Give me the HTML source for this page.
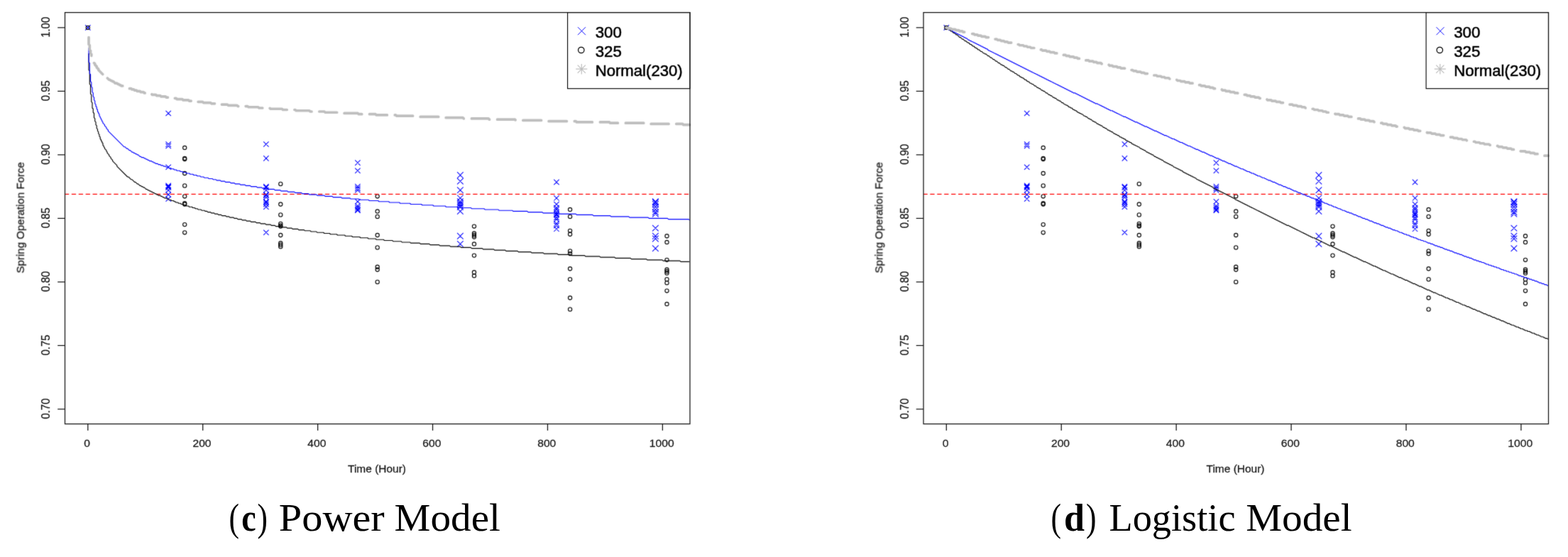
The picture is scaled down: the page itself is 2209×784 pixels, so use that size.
<!DOCTYPE html>
<html lang="en"><head><meta charset="utf-8"><title>Power Model and Logistic Model</title>
<style>
html,body{margin:0;padding:0;background:#fff}
body{width:2209px;height:784px;overflow:hidden}
svg{display:block;font-family:"Liberation Sans","DejaVu Sans",sans-serif}
</style></head><body>
<svg width="2209" height="784" viewBox="0 0 2209 784">
<defs><filter id="soft" filterUnits="userSpaceOnUse" x="0" y="0" width="2209" height="690" color-interpolation-filters="sRGB"><feConvolveMatrix order="3" kernelMatrix="0.0169 0.0962 0.0169 0.0962 0.5476 0.0962 0.0169 0.0962 0.0169" edgeMode="duplicate" preserveAlpha="false"/></filter><filter id="soft2" filterUnits="userSpaceOnUse" x="0" y="0" width="2209" height="690" color-interpolation-filters="sRGB"><feConvolveMatrix order="3" kernelMatrix="0.0081 0.0738 0.0081 0.0738 0.6724 0.0738 0.0081 0.0738 0.0081" edgeMode="duplicate" preserveAlpha="false"/></filter></defs>
<rect width="2209" height="784" fill="#fff"/>
<g filter="url(#soft)">
<g transform="translate(0 0)">
<g stroke="#0000ff" stroke-width="1.05" fill="none" stroke-linecap="butt">
<path d="M120.1 35.2L127.5 42.6M120.1 42.6L127.5 35.2M233.5 155.77L240.9 163.17M233.5 163.17L240.9 155.77M233.5 199.28L240.9 206.68M233.5 206.68L240.9 199.28M233.5 201.76L240.9 209.16M233.5 209.16L240.9 201.76M233.5 231.59L240.9 238.99M233.5 238.99L240.9 231.59M233.5 257.7L240.9 265.1M233.5 265.1L240.9 257.7M233.5 258.94L240.9 266.34M233.5 266.34L240.9 258.94M233.5 260.18L240.9 267.58M233.5 267.58L240.9 260.18M233.5 263.91L240.9 271.31M233.5 271.31L240.9 263.91M233.5 270.13L240.9 277.53M233.5 277.53L240.9 270.13M233.5 276.34L240.9 283.74M233.5 283.74L240.9 276.34M371.2 199.28L378.6 206.68M371.2 206.68L378.6 199.28M371.2 219.16L378.6 226.56M371.2 226.56L378.6 219.16M371.2 258.94L378.6 266.34M371.2 266.34L378.6 258.94M371.2 260.18L378.6 267.58M371.2 267.58L378.6 260.18M371.2 263.91L378.6 271.31M371.2 271.31L378.6 263.91M371.2 270.13L378.6 277.53M371.2 277.53L378.6 270.13M371.2 271.37L378.6 278.77M371.2 278.77L378.6 271.37M371.2 273.86L378.6 281.26M371.2 281.26L378.6 273.86M371.2 280.07L378.6 287.47M371.2 287.47L378.6 280.07M371.2 281.31L378.6 288.71M371.2 288.71L378.6 281.31M371.2 283.8L378.6 291.2M371.2 291.2L378.6 283.8M371.2 287.53L378.6 294.93M371.2 294.93L378.6 287.53M371.2 323.58L378.6 330.98M371.2 330.98L378.6 323.58M500.2 225.38L507.6 232.78M500.2 232.78L507.6 225.38M500.2 236.57L507.6 243.97M500.2 243.97L507.6 236.57M500.2 258.94L507.6 266.34M500.2 266.34L507.6 258.94M500.2 261.43L507.6 268.83M500.2 268.83L507.6 261.43M500.2 263.91L507.6 271.31M500.2 271.31L507.6 263.91M500.2 280.07L507.6 287.47M500.2 287.47L507.6 280.07M500.2 286.29L507.6 293.69M500.2 293.69L507.6 286.29M500.2 288.77L507.6 296.17M500.2 296.17L507.6 288.77M500.2 291.26L507.6 298.66M500.2 298.66L507.6 291.26M500.2 292.5L507.6 299.9M500.2 299.9L507.6 292.5M644.1 242.18L652.7 250.78M644.1 250.78L652.7 242.18M644.1 250.88L652.7 259.48M644.1 259.48L652.7 250.88M644.1 263.31L652.7 271.91M644.1 271.91L652.7 263.31M644.1 274.5L652.7 283.1M644.1 283.1L652.7 274.5M644.1 279.47L652.7 288.07M644.1 288.07L652.7 279.47M644.1 281.96L652.7 290.56M644.1 290.56L652.7 281.96M644.1 284.44L652.7 293.04M644.1 293.04L652.7 284.44M644.1 286.93L652.7 295.53M644.1 295.53L652.7 286.93M644.1 293.14L652.7 301.74M644.1 301.74L652.7 293.14M644.1 327.95L652.7 336.55M644.1 336.55L652.7 327.95M644.1 339.14L652.7 347.74M644.1 347.74L652.7 339.14M780.3 252.73L787.7 260.13M780.3 260.13L787.7 252.73M780.3 275.1L787.7 282.5M780.3 282.5L787.7 275.1M780.3 283.8L787.7 291.2M780.3 291.2L787.7 283.8M780.3 288.77L787.7 296.17M780.3 296.17L787.7 288.77M780.3 291.26L787.7 298.66M780.3 298.66L787.7 291.26M780.3 294.99L787.7 302.39M780.3 302.39L787.7 294.99M780.3 297.47L787.7 304.87M780.3 304.87L787.7 297.47M780.3 298.72L787.7 306.12M780.3 306.12L787.7 298.72M780.3 302.44L787.7 309.84M780.3 309.84L787.7 302.44M780.3 304.93L787.7 312.33M780.3 312.33L787.7 304.93M780.3 311.15L787.7 318.55M780.3 318.55L787.7 311.15M780.3 313.63L787.7 321.03M780.3 321.03L787.7 313.63M780.3 318.6L787.7 326M780.3 326L787.7 318.6M919.1 279.47L927.7 288.07M919.1 288.07L927.7 279.47M919.1 280.71L927.7 289.31M919.1 289.31L927.7 280.71M919.1 283.2L927.7 291.8M919.1 291.8L927.7 283.2M919.1 286.93L927.7 295.53M919.1 295.53L927.7 286.93M919.1 290.66L927.7 299.26M919.1 299.26L927.7 290.66M919.1 294.39L927.7 302.99M919.1 302.99L927.7 294.39M919.1 296.87L927.7 305.47M919.1 305.47L927.7 296.87M919.1 316.76L927.7 325.36M919.1 325.36L927.7 316.76M919.1 327.95L927.7 336.55M919.1 336.55L927.7 327.95M919.1 331.68L927.7 340.28M919.1 340.28L927.7 331.68M919.1 345.35L927.7 353.95M919.1 353.95L927.7 345.35"/></g>
<g stroke="#000" stroke-width="1.1" fill="none">
<circle cx="123.8" cy="38.9" r="2.6"/>
<circle cx="260.2" cy="207.95" r="2.6"/>
<circle cx="260.2" cy="222.86" r="2.6"/>
<circle cx="260.2" cy="224.11" r="2.6"/>
<circle cx="260.2" cy="244" r="2.6"/>
<circle cx="260.2" cy="261.4" r="2.6"/>
<circle cx="260.2" cy="276.31" r="2.6"/>
<circle cx="260.2" cy="286.26" r="2.6"/>
<circle cx="260.2" cy="287.5" r="2.6"/>
<circle cx="260.2" cy="316.09" r="2.6"/>
<circle cx="260.2" cy="327.28" r="2.6"/>
<circle cx="395.3" cy="258.91" r="2.6"/>
<circle cx="395.3" cy="287.5" r="2.6"/>
<circle cx="395.3" cy="302.42" r="2.6"/>
<circle cx="395.3" cy="314.85" r="2.6"/>
<circle cx="395.3" cy="317.33" r="2.6"/>
<circle cx="395.3" cy="318.57" r="2.6"/>
<circle cx="395.3" cy="331" r="2.6"/>
<circle cx="395.3" cy="342.19" r="2.6"/>
<circle cx="395.3" cy="344.68" r="2.6"/>
<circle cx="395.3" cy="347.16" r="2.6"/>
<circle cx="531.7" cy="276.31" r="2.6"/>
<circle cx="531.7" cy="297.44" r="2.6"/>
<circle cx="531.7" cy="304.9" r="2.6"/>
<circle cx="531.7" cy="331" r="2.6"/>
<circle cx="531.7" cy="348.41" r="2.6"/>
<circle cx="531.7" cy="375.75" r="2.6"/>
<circle cx="531.7" cy="379.48" r="2.6"/>
<circle cx="531.7" cy="396.88" r="2.6"/>
<circle cx="668" cy="318.57" r="2.6"/>
<circle cx="668" cy="328.52" r="2.6"/>
<circle cx="668" cy="331" r="2.6"/>
<circle cx="668" cy="333.49" r="2.6"/>
<circle cx="668" cy="343.44" r="2.6"/>
<circle cx="668" cy="359.59" r="2.6"/>
<circle cx="668" cy="383.21" r="2.6"/>
<circle cx="668" cy="388.18" r="2.6"/>
<circle cx="803.1" cy="294.96" r="2.6"/>
<circle cx="803.1" cy="304.9" r="2.6"/>
<circle cx="803.1" cy="324.79" r="2.6"/>
<circle cx="803.1" cy="329.76" r="2.6"/>
<circle cx="803.1" cy="353.38" r="2.6"/>
<circle cx="803.1" cy="357.11" r="2.6"/>
<circle cx="803.1" cy="378.24" r="2.6"/>
<circle cx="803.1" cy="393.16" r="2.6"/>
<circle cx="803.1" cy="419.26" r="2.6"/>
<circle cx="803.1" cy="435.42" r="2.6"/>
<circle cx="939.5" cy="332.25" r="2.6"/>
<circle cx="939.5" cy="340.95" r="2.6"/>
<circle cx="939.5" cy="365.81" r="2.6"/>
<circle cx="939.5" cy="379.48" r="2.6"/>
<circle cx="939.5" cy="381.97" r="2.6"/>
<circle cx="939.5" cy="384.45" r="2.6"/>
<circle cx="939.5" cy="393.16" r="2.6"/>
<circle cx="939.5" cy="398.13" r="2.6"/>
<circle cx="939.5" cy="409.31" r="2.6"/>
<circle cx="939.5" cy="427.96" r="2.6"/>
</g>
<path d="M91.5 273.4H972.0" stroke="#ff0000" stroke-width="1.3" stroke-dasharray="6.3 3.62" stroke-dashoffset="0.6" fill="none"/>
<path d="M125.04 74.95L125.04 98.56L126.29 99.81L126.29 118.45L127.53 119.69L127.53 132.12L128.77 133.37L128.77 143.31L130.01 144.56L130.01 152.01L131.26 153.26L131.26 158.23L132.5 159.47L132.5 165.69L133.74 166.93L133.74 170.66L134.99 171.9L134.99 175.63L136.23 176.87L136.23 180.6L137.47 181.85L137.47 184.33L138.72 185.57L138.72 188.06L139.96 189.3L139.96 191.79L141.2 193.03L141.2 195.52L142.44 196.76L142.44 198L143.69 199.25L143.69 200.49L144.93 201.73L144.93 204.22L146.17 205.46L146.17 206.71L147.42 207.95L147.42 209.19L149.9 211.68L149.9 212.92L151.15 214.16L151.15 215.41L153.63 217.89L153.63 219.14L156.12 221.62L156.12 222.86L158.6 225.35L158.6 226.59L164.82 232.81L164.82 234.05L179.74 248.97L180.98 248.97L184.71 252.7L185.95 252.7L189.68 256.43L190.92 256.43L193.41 258.91L194.65 258.91L197.14 261.4L198.38 261.4L199.62 262.64L200.87 262.64L202.11 263.88L203.35 263.88L205.84 266.37L207.08 266.37L208.32 267.61L209.57 267.61L210.81 268.86L212.05 268.86L213.3 270.1L214.54 270.1L215.78 271.34L217.03 271.34L218.27 272.58L219.51 272.58L220.75 273.83L222 273.83L223.24 275.07L225.73 275.07L226.97 276.31L228.21 276.31L229.46 277.56L230.7 277.56L231.94 278.8L234.43 278.8L235.67 280.04L236.91 280.04L238.16 281.29L240.64 281.29L241.88 282.53L244.37 282.53L245.61 283.77L246.86 283.77L248.1 285.01L250.59 285.01L251.83 286.26L254.31 286.26L255.56 287.5L258.04 287.5L259.29 288.74L261.77 288.74L263.02 289.99L265.5 289.99L266.75 291.23L270.47 291.23L271.72 292.47L274.2 292.47L275.45 293.72L277.93 293.72L279.18 294.96L282.9 294.96L284.15 296.2L287.88 296.2L289.12 297.44L291.61 297.44L292.85 298.69L296.58 298.69L297.82 299.93L301.55 299.93L302.79 301.17L306.52 301.17L307.76 302.42L311.49 302.42L312.74 303.66L317.71 303.66L318.95 304.9L322.68 304.9L323.92 306.14L328.9 306.14L330.14 307.39L333.87 307.39L335.11 308.63L340.08 308.63L341.32 309.87L346.3 309.87L347.54 311.12L352.51 311.12L353.75 312.36L359.97 312.36L361.21 313.6L366.19 313.6L367.43 314.85L373.64 314.85L374.89 316.09L381.1 316.09L382.34 317.33L387.32 317.33L388.56 318.57L396.02 318.57L397.26 319.82L403.48 319.82L404.72 321.06L410.93 321.06L412.18 322.3L419.63 322.3L420.88 323.55L428.34 323.55L429.58 324.79L437.04 324.79L438.28 326.03L445.74 326.03L446.98 327.28L455.68 327.28L456.92 328.52L464.38 328.52L465.63 329.76L474.33 329.76L475.57 331L485.51 331L486.76 332.25L495.46 332.25L496.7 333.49L506.64 333.49L507.89 334.73L517.83 334.73L519.07 335.98L529.02 335.98L530.26 337.22L540.21 337.22L541.45 338.46L552.63 338.46L553.88 339.71L565.07 339.71L566.31 340.95L577.5 340.95L578.74 342.19L591.17 342.19L592.41 343.44L604.84 343.44L606.08 344.68L618.51 344.68L619.76 345.92L633.43 345.92L634.67 347.16L648.35 347.16L649.59 348.41L663.26 348.41L664.5 349.65L679.42 349.65L680.66 350.89L695.58 350.89L696.82 352.14L711.74 352.14L712.98 353.38L729.14 353.38L730.38 354.62L747.79 354.62L749.03 355.87L765.19 355.87L766.43 357.11L785.08 357.11L786.32 358.35L803.72 358.35L804.96 359.59L823.61 359.59L824.85 360.84L844.74 360.84L845.98 362.08L865.87 362.08L867.11 363.32L888.25 363.32L889.49 364.57L910.62 364.57L911.86 365.81L932.99 365.81L934.24 367.05L957.85 367.05L959.1 368.3L971.53 368.3" stroke="#000" stroke-width="1.15" fill="none" stroke-linejoin="round"/>
<path d="M125.04 67.49L125.04 87.38L126.29 88.62L126.29 103.54L127.53 104.78L127.53 114.72L128.77 115.97L128.77 122.18L130.01 123.42L130.01 129.64L131.26 130.88L131.26 135.85L132.5 137.1L132.5 140.83L133.74 142.07L133.74 145.8L134.99 147.04L134.99 149.53L136.23 150.77L136.23 153.26L137.47 154.5L137.47 156.99L138.72 158.23L138.72 159.47L139.96 160.71L139.96 163.2L141.2 164.44L141.2 165.69L142.44 166.93L142.44 168.17L143.69 169.42L143.69 170.66L144.93 171.9L144.93 173.14L147.42 175.63L147.42 176.87L149.9 179.36L149.9 180.6L152.39 183.09L152.39 184.33L174.76 206.71L176.01 206.71L178.49 209.19L179.74 209.19L182.22 211.68L183.46 211.68L185.95 214.16L187.19 214.16L188.44 215.41L189.68 215.41L190.92 216.65L192.17 216.65L193.41 217.89L194.65 217.89L197.14 220.38L198.38 220.38L199.62 221.62L202.11 221.62L203.35 222.86L204.59 222.86L205.84 224.11L207.08 224.11L208.32 225.35L209.57 225.35L210.81 226.59L213.3 226.59L214.54 227.84L215.78 227.84L217.03 229.08L218.27 229.08L219.51 230.32L222 230.32L223.24 231.57L225.73 231.57L226.97 232.81L229.46 232.81L230.7 234.05L233.18 234.05L234.43 235.29L236.91 235.29L238.16 236.54L240.64 236.54L241.88 237.78L244.37 237.78L245.61 239.02L248.1 239.02L249.34 240.27L253.07 240.27L254.31 241.51L256.8 241.51L258.04 242.75L261.77 242.75L263.02 244L266.75 244L267.99 245.24L271.72 245.24L272.96 246.48L276.69 246.48L277.93 247.72L281.66 247.72L282.9 248.97L286.63 248.97L287.88 250.21L292.85 250.21L294.09 251.45L299.06 251.45L300.31 252.7L304.04 252.7L305.28 253.94L310.25 253.94L311.49 255.18L316.47 255.18L317.71 256.43L323.92 256.43L325.17 257.67L330.14 257.67L331.38 258.91L337.6 258.91L338.84 260.15L345.05 260.15L346.3 261.4L352.51 261.4L353.75 262.64L361.21 262.64L362.46 263.88L368.67 263.88L369.91 265.13L377.37 265.13L378.62 266.37L386.07 266.37L387.32 267.61L394.77 267.61L396.02 268.86L404.72 268.86L405.96 270.1L414.66 270.1L415.91 271.34L424.61 271.34L425.85 272.58L434.55 272.58L435.79 273.83L445.74 273.83L446.98 275.07L456.92 275.07L458.17 276.31L468.11 276.31L469.35 277.56L480.54 277.56L481.78 278.8L492.97 278.8L494.21 280.04L505.4 280.04L506.64 281.29L519.07 281.29L520.32 282.53L532.75 282.53L533.99 283.77L547.66 283.77L548.91 285.01L562.58 285.01L563.82 286.26L577.5 286.26L578.74 287.5L593.65 287.5L594.9 288.74L609.81 288.74L611.06 289.99L627.22 289.99L628.46 291.23L644.62 291.23L645.86 292.47L663.26 292.47L664.5 293.72L681.91 293.72L683.15 294.96L701.79 294.96L703.04 296.2L721.68 296.2L722.93 297.44L742.81 297.44L744.06 298.69L763.95 298.69L765.19 299.93L787.56 299.93L788.81 301.17L811.18 301.17L812.42 302.42L834.8 302.42L836.04 303.66L859.66 303.66L860.9 304.9L885.76 304.9L887 306.14L913.11 306.14L914.35 307.39L940.45 307.39L941.69 308.63L970.28 308.63L971.53 309.87" stroke="#0000ff" stroke-width="1.15" fill="none" stroke-linejoin="round"/>
<path d="M125.04 52.57L125.04 62.52L126.29 63.76L126.29 69.97L127.53 71.22L127.53 74.95L128.77 76.19L128.77 79.92L130.01 81.16L130.01 82.41L131.26 83.65L131.26 86.13L132.5 87.38L132.5 88.62L133.74 89.86L133.74 91.11L136.23 93.59L136.23 94.84L138.72 97.32L138.72 98.56L149.9 109.75L151.15 109.75L153.63 112.24L154.88 112.24L156.12 113.48L157.36 113.48L158.6 114.72L159.85 114.72L162.33 117.21L164.82 117.21L166.06 118.45L167.31 118.45L168.55 119.69L169.79 119.69L171.03 120.94L173.52 120.94L174.76 122.18L177.25 122.18L178.49 123.42L179.74 123.42L180.98 124.67L184.71 124.67L185.95 125.91L188.44 125.91L189.68 127.15L192.17 127.15L193.41 128.4L197.14 128.4L198.38 129.64L202.11 129.64L203.35 130.88L208.32 130.88L209.57 132.12L213.3 132.12L214.54 133.37L219.51 133.37L220.75 134.61L225.73 134.61L226.97 135.85L233.18 135.85L234.43 137.1L240.64 137.1L241.88 138.34L248.1 138.34L249.34 139.58L256.8 139.58L258.04 140.83L265.5 140.83L266.75 142.07L275.45 142.07L276.69 143.31L285.39 143.31L286.63 144.56L296.58 144.56L297.82 145.8L307.76 145.8L309.01 147.04L320.19 147.04L321.44 148.28L333.87 148.28L335.11 149.53L348.78 149.53L350.03 150.77L363.7 150.77L364.94 152.01L379.86 152.01L381.1 153.26L397.26 153.26L398.5 154.5L415.91 154.5L417.15 155.74L435.79 155.74L437.04 156.99L456.92 156.99L458.17 158.23L479.3 158.23L480.54 159.47L504.16 159.47L505.4 160.71L529.02 160.71L530.26 161.96L557.61 161.96L558.85 163.2L586.2 163.2L587.44 164.44L618.51 164.44L619.76 165.69L652.08 165.69L653.32 166.93L688.12 166.93L689.37 168.17L725.41 168.17L726.65 169.42L767.67 169.42L768.92 170.66L811.18 170.66L812.42 171.9L858.41 171.9L859.66 173.14L908.13 173.14L909.38 174.39L961.58 174.39L962.83 175.63L971.53 175.63" stroke="#bebebe" stroke-width="3.7" stroke-dasharray="27.45 11.76 20.86 8.94 26.01 11.15 24.39 10.45 24.36 10.44 24.38 10.45 24.38 10.45 24.35 10.43 24.64 10.56 24.92 10.68 25.16 10.78 25.38 10.88 25.2 10.8 25.36 10.87 25.85 11.08 25.6 10.97 25.67 11 25.72 11.02 25.74 11.03 25.73 11.03 25.34 10.86 25.63 10.98 25.54 10.95 25.42 10.89 24.91 10.68 25.27 10.83 24.91 10.68" stroke-linecap="round" stroke-linejoin="round" fill="none"/>
</g>
<g transform="translate(1209.5 0)">
<g stroke="#0000ff" stroke-width="1.05" fill="none" stroke-linecap="butt">
<path d="M120.1 35.2L127.5 42.6M120.1 42.6L127.5 35.2M233.5 155.77L240.9 163.17M233.5 163.17L240.9 155.77M233.5 199.28L240.9 206.68M233.5 206.68L240.9 199.28M233.5 201.76L240.9 209.16M233.5 209.16L240.9 201.76M233.5 231.59L240.9 238.99M233.5 238.99L240.9 231.59M233.5 257.7L240.9 265.1M233.5 265.1L240.9 257.7M233.5 258.94L240.9 266.34M233.5 266.34L240.9 258.94M233.5 260.18L240.9 267.58M233.5 267.58L240.9 260.18M233.5 263.91L240.9 271.31M233.5 271.31L240.9 263.91M233.5 270.13L240.9 277.53M233.5 277.53L240.9 270.13M233.5 276.34L240.9 283.74M233.5 283.74L240.9 276.34M371.2 199.28L378.6 206.68M371.2 206.68L378.6 199.28M371.2 219.16L378.6 226.56M371.2 226.56L378.6 219.16M371.2 258.94L378.6 266.34M371.2 266.34L378.6 258.94M371.2 260.18L378.6 267.58M371.2 267.58L378.6 260.18M371.2 263.91L378.6 271.31M371.2 271.31L378.6 263.91M371.2 270.13L378.6 277.53M371.2 277.53L378.6 270.13M371.2 271.37L378.6 278.77M371.2 278.77L378.6 271.37M371.2 273.86L378.6 281.26M371.2 281.26L378.6 273.86M371.2 280.07L378.6 287.47M371.2 287.47L378.6 280.07M371.2 281.31L378.6 288.71M371.2 288.71L378.6 281.31M371.2 283.8L378.6 291.2M371.2 291.2L378.6 283.8M371.2 287.53L378.6 294.93M371.2 294.93L378.6 287.53M371.2 323.58L378.6 330.98M371.2 330.98L378.6 323.58M500.2 225.38L507.6 232.78M500.2 232.78L507.6 225.38M500.2 236.57L507.6 243.97M500.2 243.97L507.6 236.57M500.2 258.94L507.6 266.34M500.2 266.34L507.6 258.94M500.2 261.43L507.6 268.83M500.2 268.83L507.6 261.43M500.2 263.91L507.6 271.31M500.2 271.31L507.6 263.91M500.2 280.07L507.6 287.47M500.2 287.47L507.6 280.07M500.2 286.29L507.6 293.69M500.2 293.69L507.6 286.29M500.2 288.77L507.6 296.17M500.2 296.17L507.6 288.77M500.2 291.26L507.6 298.66M500.2 298.66L507.6 291.26M500.2 292.5L507.6 299.9M500.2 299.9L507.6 292.5M644.1 242.18L652.7 250.78M644.1 250.78L652.7 242.18M644.1 250.88L652.7 259.48M644.1 259.48L652.7 250.88M644.1 263.31L652.7 271.91M644.1 271.91L652.7 263.31M644.1 274.5L652.7 283.1M644.1 283.1L652.7 274.5M644.1 279.47L652.7 288.07M644.1 288.07L652.7 279.47M644.1 281.96L652.7 290.56M644.1 290.56L652.7 281.96M644.1 284.44L652.7 293.04M644.1 293.04L652.7 284.44M644.1 286.93L652.7 295.53M644.1 295.53L652.7 286.93M644.1 293.14L652.7 301.74M644.1 301.74L652.7 293.14M644.1 327.95L652.7 336.55M644.1 336.55L652.7 327.95M644.1 339.14L652.7 347.74M644.1 347.74L652.7 339.14M780.3 252.73L787.7 260.13M780.3 260.13L787.7 252.73M780.3 275.1L787.7 282.5M780.3 282.5L787.7 275.1M780.3 283.8L787.7 291.2M780.3 291.2L787.7 283.8M780.3 288.77L787.7 296.17M780.3 296.17L787.7 288.77M780.3 291.26L787.7 298.66M780.3 298.66L787.7 291.26M780.3 294.99L787.7 302.39M780.3 302.39L787.7 294.99M780.3 297.47L787.7 304.87M780.3 304.87L787.7 297.47M780.3 298.72L787.7 306.12M780.3 306.12L787.7 298.72M780.3 302.44L787.7 309.84M780.3 309.84L787.7 302.44M780.3 304.93L787.7 312.33M780.3 312.33L787.7 304.93M780.3 311.15L787.7 318.55M780.3 318.55L787.7 311.15M780.3 313.63L787.7 321.03M780.3 321.03L787.7 313.63M780.3 318.6L787.7 326M780.3 326L787.7 318.6M919.1 279.47L927.7 288.07M919.1 288.07L927.7 279.47M919.1 280.71L927.7 289.31M919.1 289.31L927.7 280.71M919.1 283.2L927.7 291.8M919.1 291.8L927.7 283.2M919.1 286.93L927.7 295.53M919.1 295.53L927.7 286.93M919.1 290.66L927.7 299.26M919.1 299.26L927.7 290.66M919.1 294.39L927.7 302.99M919.1 302.99L927.7 294.39M919.1 296.87L927.7 305.47M919.1 305.47L927.7 296.87M919.1 316.76L927.7 325.36M919.1 325.36L927.7 316.76M919.1 327.95L927.7 336.55M919.1 336.55L927.7 327.95M919.1 331.68L927.7 340.28M919.1 340.28L927.7 331.68M919.1 345.35L927.7 353.95M919.1 353.95L927.7 345.35"/></g>
<g stroke="#000" stroke-width="1.1" fill="none">
<circle cx="123.8" cy="38.9" r="2.6"/>
<circle cx="260.2" cy="207.95" r="2.6"/>
<circle cx="260.2" cy="222.86" r="2.6"/>
<circle cx="260.2" cy="224.11" r="2.6"/>
<circle cx="260.2" cy="244" r="2.6"/>
<circle cx="260.2" cy="261.4" r="2.6"/>
<circle cx="260.2" cy="276.31" r="2.6"/>
<circle cx="260.2" cy="286.26" r="2.6"/>
<circle cx="260.2" cy="287.5" r="2.6"/>
<circle cx="260.2" cy="316.09" r="2.6"/>
<circle cx="260.2" cy="327.28" r="2.6"/>
<circle cx="395.3" cy="258.91" r="2.6"/>
<circle cx="395.3" cy="287.5" r="2.6"/>
<circle cx="395.3" cy="302.42" r="2.6"/>
<circle cx="395.3" cy="314.85" r="2.6"/>
<circle cx="395.3" cy="317.33" r="2.6"/>
<circle cx="395.3" cy="318.57" r="2.6"/>
<circle cx="395.3" cy="331" r="2.6"/>
<circle cx="395.3" cy="342.19" r="2.6"/>
<circle cx="395.3" cy="344.68" r="2.6"/>
<circle cx="395.3" cy="347.16" r="2.6"/>
<circle cx="531.7" cy="276.31" r="2.6"/>
<circle cx="531.7" cy="297.44" r="2.6"/>
<circle cx="531.7" cy="304.9" r="2.6"/>
<circle cx="531.7" cy="331" r="2.6"/>
<circle cx="531.7" cy="348.41" r="2.6"/>
<circle cx="531.7" cy="375.75" r="2.6"/>
<circle cx="531.7" cy="379.48" r="2.6"/>
<circle cx="531.7" cy="396.88" r="2.6"/>
<circle cx="668" cy="318.57" r="2.6"/>
<circle cx="668" cy="328.52" r="2.6"/>
<circle cx="668" cy="331" r="2.6"/>
<circle cx="668" cy="333.49" r="2.6"/>
<circle cx="668" cy="343.44" r="2.6"/>
<circle cx="668" cy="359.59" r="2.6"/>
<circle cx="668" cy="383.21" r="2.6"/>
<circle cx="668" cy="388.18" r="2.6"/>
<circle cx="803.1" cy="294.96" r="2.6"/>
<circle cx="803.1" cy="304.9" r="2.6"/>
<circle cx="803.1" cy="324.79" r="2.6"/>
<circle cx="803.1" cy="329.76" r="2.6"/>
<circle cx="803.1" cy="353.38" r="2.6"/>
<circle cx="803.1" cy="357.11" r="2.6"/>
<circle cx="803.1" cy="378.24" r="2.6"/>
<circle cx="803.1" cy="393.16" r="2.6"/>
<circle cx="803.1" cy="419.26" r="2.6"/>
<circle cx="803.1" cy="435.42" r="2.6"/>
<circle cx="939.5" cy="332.25" r="2.6"/>
<circle cx="939.5" cy="340.95" r="2.6"/>
<circle cx="939.5" cy="365.81" r="2.6"/>
<circle cx="939.5" cy="379.48" r="2.6"/>
<circle cx="939.5" cy="381.97" r="2.6"/>
<circle cx="939.5" cy="384.45" r="2.6"/>
<circle cx="939.5" cy="393.16" r="2.6"/>
<circle cx="939.5" cy="398.13" r="2.6"/>
<circle cx="939.5" cy="409.31" r="2.6"/>
<circle cx="939.5" cy="427.96" r="2.6"/>
</g>
<path d="M91.5 273.4H972.0" stroke="#ff0000" stroke-width="1.3" stroke-dasharray="6.3 3.62" stroke-dashoffset="0.6" fill="none"/>
<path d="M123.8 38.9L126.29 41.39L127.53 41.39L130.01 43.87L131.26 43.87L133.74 46.36L134.99 46.36L137.47 48.84L138.72 48.84L142.44 52.57L143.69 52.57L146.17 55.06L147.42 55.06L149.9 57.55L151.15 57.55L153.63 60.03L154.88 60.03L157.36 62.52L158.6 62.52L161.09 65L162.33 65L164.82 67.49L166.06 67.49L168.55 69.97L169.79 69.97L172.28 72.46L173.52 72.46L176.01 74.95L177.25 74.95L178.49 76.19L179.74 76.19L182.22 78.68L183.46 78.68L185.95 81.16L187.19 81.16L189.68 83.65L190.92 83.65L193.41 86.13L194.65 86.13L197.14 88.62L198.38 88.62L200.87 91.11L202.11 91.11L203.35 92.35L204.59 92.35L207.08 94.84L208.32 94.84L210.81 97.32L212.05 97.32L214.54 99.81L215.78 99.81L217.03 101.05L218.27 101.05L220.75 103.54L222 103.54L224.48 106.02L225.73 106.02L228.21 108.51L229.46 108.51L230.7 109.75L231.94 109.75L234.43 112.24L235.67 112.24L238.16 114.72L239.4 114.72L241.88 117.21L243.13 117.21L244.37 118.45L245.61 118.45L248.1 120.94L249.34 120.94L251.83 123.42L253.07 123.42L254.31 124.67L255.56 124.67L258.04 127.15L259.29 127.15L260.53 128.4L261.77 128.4L264.26 130.88L265.5 130.88L267.99 133.37L269.23 133.37L270.47 134.61L271.72 134.61L274.2 137.1L275.45 137.1L276.69 138.34L277.93 138.34L280.42 140.83L281.66 140.83L282.9 142.07L284.15 142.07L286.63 144.56L287.88 144.56L290.36 147.04L291.61 147.04L292.85 148.28L294.09 148.28L296.58 150.77L297.82 150.77L299.06 152.01L300.31 152.01L302.79 154.5L304.04 154.5L305.28 155.74L306.52 155.74L309.01 158.23L310.25 158.23L311.49 159.47L312.74 159.47L313.98 160.71L315.22 160.71L317.71 163.2L318.95 163.2L320.19 164.44L321.44 164.44L323.92 166.93L325.17 166.93L326.41 168.17L327.65 168.17L330.14 170.66L331.38 170.66L332.62 171.9L333.87 171.9L336.35 174.39L337.6 174.39L338.84 175.63L340.08 175.63L341.32 176.87L342.57 176.87L345.05 179.36L346.3 179.36L347.54 180.6L348.78 180.6L351.27 183.09L352.51 183.09L353.75 184.33L355 184.33L356.24 185.57L357.48 185.57L359.97 188.06L361.21 188.06L362.46 189.3L363.7 189.3L364.94 190.55L366.19 190.55L368.67 193.03L369.91 193.03L371.16 194.28L372.4 194.28L373.64 195.52L374.89 195.52L377.37 198L378.62 198L379.86 199.25L381.1 199.25L382.34 200.49L383.59 200.49L386.07 202.98L387.32 202.98L388.56 204.22L389.8 204.22L391.05 205.46L392.29 205.46L393.53 206.71L394.77 206.71L397.26 209.19L398.5 209.19L399.75 210.43L400.99 210.43L402.23 211.68L403.48 211.68L405.96 214.16L407.2 214.16L408.45 215.41L409.69 215.41L410.93 216.65L412.18 216.65L413.42 217.89L414.66 217.89L417.15 220.38L418.39 220.38L419.63 221.62L420.88 221.62L422.12 222.86L423.36 222.86L424.61 224.11L425.85 224.11L427.09 225.35L428.34 225.35L430.82 227.84L432.06 227.84L433.31 229.08L434.55 229.08L435.79 230.32L437.04 230.32L438.28 231.57L439.52 231.57L440.77 232.81L442.01 232.81L444.49 235.29L445.74 235.29L446.98 236.54L448.22 236.54L449.47 237.78L450.71 237.78L451.95 239.02L453.2 239.02L454.44 240.27L455.68 240.27L458.17 242.75L459.41 242.75L460.65 244L461.9 244L463.14 245.24L464.38 245.24L465.63 246.48L466.87 246.48L468.11 247.72L469.35 247.72L470.6 248.97L471.84 248.97L473.08 250.21L474.33 250.21L476.81 252.7L478.06 252.7L479.3 253.94L480.54 253.94L481.78 255.18L483.03 255.18L484.27 256.43L485.51 256.43L486.76 257.67L488 257.67L489.24 258.91L490.49 258.91L491.73 260.15L492.97 260.15L494.21 261.4L495.46 261.4L496.7 262.64L497.94 262.64L500.43 265.13L501.67 265.13L502.92 266.37L504.16 266.37L505.4 267.61L506.64 267.61L507.89 268.86L509.13 268.86L510.37 270.1L511.62 270.1L512.86 271.34L514.1 271.34L515.35 272.58L516.59 272.58L517.83 273.83L519.07 273.83L520.32 275.07L521.56 275.07L522.8 276.31L524.05 276.31L525.29 277.56L526.53 277.56L527.77 278.8L529.02 278.8L531.5 281.29L532.75 281.29L533.99 282.53L535.23 282.53L536.48 283.77L537.72 283.77L538.96 285.01L540.21 285.01L541.45 286.26L542.69 286.26L543.93 287.5L545.18 287.5L546.42 288.74L547.66 288.74L548.91 289.99L550.15 289.99L551.39 291.23L552.63 291.23L553.88 292.47L555.12 292.47L556.36 293.72L557.61 293.72L558.85 294.96L560.09 294.96L561.34 296.2L562.58 296.2L563.82 297.44L565.07 297.44L566.31 298.69L567.55 298.69L568.79 299.93L570.04 299.93L571.28 301.17L572.52 301.17L573.77 302.42L575.01 302.42L576.25 303.66L577.5 303.66L578.74 304.9L579.98 304.9L581.22 306.14L582.47 306.14L583.71 307.39L584.95 307.39L586.2 308.63L587.44 308.63L588.68 309.87L589.93 309.87L591.17 311.12L592.41 311.12L593.65 312.36L594.9 312.36L596.14 313.6L597.38 313.6L598.63 314.85L599.87 314.85L601.11 316.09L602.36 316.09L603.6 317.33L606.08 317.33L607.33 318.57L608.57 318.57L609.81 319.82L611.06 319.82L612.3 321.06L613.54 321.06L614.78 322.3L616.03 322.3L617.27 323.55L618.51 323.55L619.76 324.79L621 324.79L622.24 326.03L623.49 326.03L624.73 327.28L625.97 327.28L627.22 328.52L628.46 328.52L629.7 329.76L630.94 329.76L632.19 331L633.43 331L634.67 332.25L635.92 332.25L637.16 333.49L638.4 333.49L639.64 334.73L642.13 334.73L643.37 335.98L644.62 335.98L645.86 337.22L647.1 337.22L648.35 338.46L649.59 338.46L650.83 339.71L652.08 339.71L653.32 340.95L654.56 340.95L655.8 342.19L657.05 342.19L658.29 343.44L659.53 343.44L660.78 344.68L662.02 344.68L663.26 345.92L665.75 345.92L666.99 347.16L668.23 347.16L669.48 348.41L670.72 348.41L671.96 349.65L673.21 349.65L674.45 350.89L675.69 350.89L676.93 352.14L678.18 352.14L679.42 353.38L680.66 353.38L681.91 354.62L684.39 354.62L685.64 355.87L686.88 355.87L688.12 357.11L689.37 357.11L690.61 358.35L691.85 358.35L693.09 359.59L694.34 359.59L695.58 360.84L696.82 360.84L698.07 362.08L700.55 362.08L701.79 363.32L703.04 363.32L704.28 364.57L705.52 364.57L706.77 365.81L708.01 365.81L709.25 367.05L710.5 367.05L711.74 368.3L714.23 368.3L715.47 369.54L716.71 369.54L717.95 370.78L719.2 370.78L720.44 372.02L721.68 372.02L722.93 373.27L724.17 373.27L725.41 374.51L727.9 374.51L729.14 375.75L730.38 375.75L731.63 377L732.87 377L734.11 378.24L735.36 378.24L736.6 379.48L737.84 379.48L739.09 380.73L741.57 380.73L742.81 381.97L744.06 381.97L745.3 383.21L746.54 383.21L747.79 384.45L749.03 384.45L750.27 385.7L752.76 385.7L754 386.94L755.24 386.94L756.49 388.18L757.73 388.18L758.97 389.43L760.22 389.43L761.46 390.67L763.95 390.67L765.19 391.91L766.43 391.91L767.67 393.16L768.92 393.16L770.16 394.4L772.65 394.4L773.89 395.64L775.13 395.64L776.38 396.88L777.62 396.88L778.86 398.13L780.1 398.13L781.35 399.37L783.83 399.37L785.08 400.61L786.32 400.61L787.56 401.86L788.81 401.86L790.05 403.1L792.53 403.1L793.78 404.34L795.02 404.34L796.26 405.59L797.51 405.59L798.75 406.83L799.99 406.83L801.24 408.07L803.72 408.07L804.96 409.31L806.21 409.31L807.45 410.56L808.69 410.56L809.94 411.8L812.42 411.8L813.66 413.04L814.91 413.04L816.15 414.29L817.39 414.29L818.64 415.53L821.12 415.53L822.37 416.77L823.61 416.77L824.85 418.01L826.1 418.01L827.34 419.26L829.82 419.26L831.07 420.5L832.31 420.5L833.55 421.74L836.04 421.74L837.28 422.99L838.52 422.99L839.77 424.23L841.01 424.23L842.25 425.47L844.74 425.47L845.98 426.72L847.23 426.72L848.47 427.96L849.71 427.96L850.96 429.2L853.44 429.2L854.68 430.44L855.93 430.44L857.17 431.69L859.66 431.69L860.9 432.93L862.14 432.93L863.38 434.17L864.63 434.17L865.87 435.42L868.36 435.42L869.6 436.66L870.84 436.66L872.09 437.9L874.57 437.9L875.82 439.15L877.06 439.15L878.3 440.39L879.54 440.39L880.79 441.63L883.27 441.63L884.52 442.88L885.76 442.88L887 444.12L889.49 444.12L890.73 445.36L891.97 445.36L893.22 446.6L895.7 446.6L896.95 447.85L898.19 447.85L899.43 449.09L901.92 449.09L903.16 450.33L904.4 450.33L905.65 451.58L908.13 451.58L909.38 452.82L910.62 452.82L911.86 454.06L913.11 454.06L914.35 455.31L916.83 455.31L918.08 456.55L919.32 456.55L920.56 457.79L923.05 457.79L924.29 459.03L925.53 459.03L926.78 460.28L929.26 460.28L930.51 461.52L931.75 461.52L932.99 462.76L935.48 462.76L936.72 464.01L937.97 464.01L939.21 465.25L941.69 465.25L942.94 466.49L945.42 466.49L946.67 467.74L947.91 467.74L949.15 468.98L951.64 468.98L952.88 470.22L954.12 470.22L955.37 471.46L957.85 471.46L959.1 472.71L960.34 472.71L961.58 473.95L964.07 473.95L965.31 475.19L966.55 475.19L967.8 476.44L970.28 476.44L971.53 477.68" stroke="#000" stroke-width="1.15" fill="none" stroke-linejoin="round"/>
<path d="M123.8 38.9L125.04 40.14L126.29 40.14L127.53 41.39L128.77 41.39L130.01 42.63L131.26 42.63L133.74 45.12L134.99 45.12L136.23 46.36L137.47 46.36L138.72 47.6L139.96 47.6L141.2 48.84L142.44 48.84L143.69 50.09L144.93 50.09L146.17 51.33L147.42 51.33L148.66 52.57L149.9 52.57L151.15 53.82L152.39 53.82L154.88 56.3L156.12 56.3L157.36 57.55L158.6 57.55L159.85 58.79L161.09 58.79L162.33 60.03L163.58 60.03L164.82 61.27L166.06 61.27L167.31 62.52L168.55 62.52L169.79 63.76L171.03 63.76L172.28 65L173.52 65L174.76 66.25L176.01 66.25L177.25 67.49L178.49 67.49L179.74 68.73L180.98 68.73L183.46 71.22L184.71 71.22L185.95 72.46L187.19 72.46L188.44 73.7L189.68 73.7L190.92 74.95L192.17 74.95L193.41 76.19L194.65 76.19L195.89 77.43L197.14 77.43L198.38 78.68L199.62 78.68L200.87 79.92L202.11 79.92L203.35 81.16L204.59 81.16L205.84 82.41L207.08 82.41L208.32 83.65L209.57 83.65L210.81 84.89L212.05 84.89L213.3 86.13L214.54 86.13L215.78 87.38L217.03 87.38L218.27 88.62L219.51 88.62L220.75 89.86L222 89.86L223.24 91.11L224.48 91.11L225.73 92.35L226.97 92.35L228.21 93.59L229.46 93.59L230.7 94.84L231.94 94.84L233.18 96.08L234.43 96.08L235.67 97.32L236.91 97.32L238.16 98.56L239.4 98.56L240.64 99.81L241.88 99.81L243.13 101.05L244.37 101.05L245.61 102.29L246.86 102.29L248.1 103.54L249.34 103.54L250.59 104.78L251.83 104.78L253.07 106.02L254.31 106.02L255.56 107.27L256.8 107.27L258.04 108.51L259.29 108.51L260.53 109.75L261.77 109.75L263.02 110.99L264.26 110.99L265.5 112.24L266.75 112.24L267.99 113.48L269.23 113.48L270.47 114.72L271.72 114.72L272.96 115.97L274.2 115.97L275.45 117.21L276.69 117.21L277.93 118.45L279.18 118.45L280.42 119.69L281.66 119.69L282.9 120.94L284.15 120.94L285.39 122.18L286.63 122.18L287.88 123.42L289.12 123.42L290.36 124.67L291.61 124.67L292.85 125.91L294.09 125.91L295.33 127.15L296.58 127.15L297.82 128.4L299.06 128.4L300.31 129.64L301.55 129.64L302.79 130.88L305.28 130.88L306.52 132.12L307.76 132.12L309.01 133.37L310.25 133.37L311.49 134.61L312.74 134.61L313.98 135.85L315.22 135.85L316.47 137.1L317.71 137.1L318.95 138.34L320.19 138.34L321.44 139.58L322.68 139.58L323.92 140.83L325.17 140.83L326.41 142.07L327.65 142.07L328.9 143.31L330.14 143.31L331.38 144.56L332.62 144.56L333.87 145.8L336.35 145.8L337.6 147.04L338.84 147.04L340.08 148.28L341.32 148.28L342.57 149.53L343.81 149.53L345.05 150.77L346.3 150.77L347.54 152.01L348.78 152.01L350.03 153.26L351.27 153.26L352.51 154.5L353.75 154.5L355 155.74L357.48 155.74L358.73 156.99L359.97 156.99L361.21 158.23L362.46 158.23L363.7 159.47L364.94 159.47L366.19 160.71L367.43 160.71L368.67 161.96L369.91 161.96L371.16 163.2L372.4 163.2L373.64 164.44L376.13 164.44L377.37 165.69L378.62 165.69L379.86 166.93L381.1 166.93L382.34 168.17L383.59 168.17L384.83 169.42L386.07 169.42L387.32 170.66L388.56 170.66L389.8 171.9L392.29 171.9L393.53 173.14L394.77 173.14L396.02 174.39L397.26 174.39L398.5 175.63L399.75 175.63L400.99 176.87L402.23 176.87L403.48 178.12L405.96 178.12L407.2 179.36L408.45 179.36L409.69 180.6L410.93 180.6L412.18 181.85L413.42 181.85L414.66 183.09L415.91 183.09L417.15 184.33L419.63 184.33L420.88 185.57L422.12 185.57L423.36 186.82L424.61 186.82L425.85 188.06L427.09 188.06L428.34 189.3L429.58 189.3L430.82 190.55L433.31 190.55L434.55 191.79L435.79 191.79L437.04 193.03L438.28 193.03L439.52 194.28L440.77 194.28L442.01 195.52L444.49 195.52L445.74 196.76L446.98 196.76L448.22 198L449.47 198L450.71 199.25L451.95 199.25L453.2 200.49L455.68 200.49L456.92 201.73L458.17 201.73L459.41 202.98L460.65 202.98L461.9 204.22L463.14 204.22L464.38 205.46L466.87 205.46L468.11 206.71L469.35 206.71L470.6 207.95L471.84 207.95L473.08 209.19L474.33 209.19L475.57 210.43L478.06 210.43L479.3 211.68L480.54 211.68L481.78 212.92L483.03 212.92L484.27 214.16L486.76 214.16L488 215.41L489.24 215.41L490.49 216.65L491.73 216.65L492.97 217.89L494.21 217.89L495.46 219.14L497.94 219.14L499.19 220.38L500.43 220.38L501.67 221.62L502.92 221.62L504.16 222.86L506.64 222.86L507.89 224.11L509.13 224.11L510.37 225.35L511.62 225.35L512.86 226.59L515.35 226.59L516.59 227.84L517.83 227.84L519.07 229.08L520.32 229.08L521.56 230.32L524.05 230.32L525.29 231.57L526.53 231.57L527.77 232.81L529.02 232.81L530.26 234.05L532.75 234.05L533.99 235.29L535.23 235.29L536.48 236.54L537.72 236.54L538.96 237.78L541.45 237.78L542.69 239.02L543.93 239.02L545.18 240.27L546.42 240.27L547.66 241.51L550.15 241.51L551.39 242.75L552.63 242.75L553.88 244L556.36 244L557.61 245.24L558.85 245.24L560.09 246.48L561.34 246.48L562.58 247.72L565.07 247.72L566.31 248.97L567.55 248.97L568.79 250.21L571.28 250.21L572.52 251.45L573.77 251.45L575.01 252.7L576.25 252.7L577.5 253.94L579.98 253.94L581.22 255.18L582.47 255.18L583.71 256.43L586.2 256.43L587.44 257.67L588.68 257.67L589.93 258.91L591.17 258.91L592.41 260.15L594.9 260.15L596.14 261.4L597.38 261.4L598.63 262.64L601.11 262.64L602.36 263.88L603.6 263.88L604.84 265.13L607.33 265.13L608.57 266.37L609.81 266.37L611.06 267.61L612.3 267.61L613.54 268.86L616.03 268.86L617.27 270.1L618.51 270.1L619.76 271.34L622.24 271.34L623.49 272.58L624.73 272.58L625.97 273.83L628.46 273.83L629.7 275.07L630.94 275.07L632.19 276.31L634.67 276.31L635.92 277.56L637.16 277.56L638.4 278.8L640.89 278.8L642.13 280.04L643.37 280.04L644.62 281.29L647.1 281.29L648.35 282.53L649.59 282.53L650.83 283.77L653.32 283.77L654.56 285.01L655.8 285.01L657.05 286.26L659.53 286.26L660.78 287.5L662.02 287.5L663.26 288.74L665.75 288.74L666.99 289.99L668.23 289.99L669.48 291.23L671.96 291.23L673.21 292.47L674.45 292.47L675.69 293.72L678.18 293.72L679.42 294.96L680.66 294.96L681.91 296.2L684.39 296.2L685.64 297.44L686.88 297.44L688.12 298.69L690.61 298.69L691.85 299.93L694.34 299.93L695.58 301.17L696.82 301.17L698.07 302.42L700.55 302.42L701.79 303.66L703.04 303.66L704.28 304.9L706.77 304.9L708.01 306.14L709.25 306.14L710.5 307.39L712.98 307.39L714.23 308.63L716.71 308.63L717.95 309.87L719.2 309.87L720.44 311.12L722.93 311.12L724.17 312.36L725.41 312.36L726.65 313.6L729.14 313.6L730.38 314.85L732.87 314.85L734.11 316.09L735.36 316.09L736.6 317.33L739.09 317.33L740.33 318.57L741.57 318.57L742.81 319.82L745.3 319.82L746.54 321.06L749.03 321.06L750.27 322.3L751.51 322.3L752.76 323.55L755.24 323.55L756.49 324.79L758.97 324.79L760.22 326.03L761.46 326.03L762.7 327.28L765.19 327.28L766.43 328.52L767.67 328.52L768.92 329.76L771.4 329.76L772.65 331L775.13 331L776.38 332.25L777.62 332.25L778.86 333.49L781.35 333.49L782.59 334.73L785.08 334.73L786.32 335.98L787.56 335.98L788.81 337.22L791.29 337.22L792.53 338.46L795.02 338.46L796.26 339.71L798.75 339.71L799.99 340.95L801.24 340.95L802.48 342.19L804.96 342.19L806.21 343.44L808.69 343.44L809.94 344.68L811.18 344.68L812.42 345.92L814.91 345.92L816.15 347.16L818.64 347.16L819.88 348.41L822.37 348.41L823.61 349.65L824.85 349.65L826.1 350.89L828.58 350.89L829.82 352.14L832.31 352.14L833.55 353.38L836.04 353.38L837.28 354.62L838.52 354.62L839.77 355.87L842.25 355.87L843.5 357.11L845.98 357.11L847.23 358.35L849.71 358.35L850.96 359.59L852.2 359.59L853.44 360.84L855.93 360.84L857.17 362.08L859.66 362.08L860.9 363.32L863.38 363.32L864.63 364.57L865.87 364.57L867.11 365.81L869.6 365.81L870.84 367.05L873.33 367.05L874.57 368.3L877.06 368.3L878.3 369.54L880.79 369.54L882.03 370.78L883.27 370.78L884.52 372.02L887 372.02L888.25 373.27L890.73 373.27L891.97 374.51L894.46 374.51L895.7 375.75L898.19 375.75L899.43 377L901.92 377L903.16 378.24L904.4 378.24L905.65 379.48L908.13 379.48L909.38 380.73L911.86 380.73L913.11 381.97L915.59 381.97L916.83 383.21L919.32 383.21L920.56 384.45L923.05 384.45L924.29 385.7L926.78 385.7L928.02 386.94L929.26 386.94L930.51 388.18L932.99 388.18L934.24 389.43L936.72 389.43L937.97 390.67L940.45 390.67L941.69 391.91L944.18 391.91L945.42 393.16L947.91 393.16L949.15 394.4L951.64 394.4L952.88 395.64L955.37 395.64L956.61 396.88L957.85 396.88L959.1 398.13L961.58 398.13L962.83 399.37L965.31 399.37L966.55 400.61L969.04 400.61L970.28 401.86L971.53 401.86" stroke="#0000ff" stroke-width="1.15" fill="none" stroke-linejoin="round"/>
<path d="M123.8 38.9L125.04 38.9L126.29 40.14L130.01 40.14L131.26 41.39L136.23 41.39L137.47 42.63L141.2 42.63L142.44 43.87L146.17 43.87L147.42 45.12L151.15 45.12L152.39 46.36L157.36 46.36L158.6 47.6L162.33 47.6L163.58 48.84L167.31 48.84L168.55 50.09L172.28 50.09L173.52 51.33L178.49 51.33L179.74 52.57L183.46 52.57L184.71 53.82L188.44 53.82L189.68 55.06L194.65 55.06L195.89 56.3L199.62 56.3L200.87 57.55L204.59 57.55L205.84 58.79L209.57 58.79L210.81 60.03L215.78 60.03L217.03 61.27L220.75 61.27L222 62.52L225.73 62.52L226.97 63.76L231.94 63.76L233.18 65L236.91 65L238.16 66.25L241.88 66.25L243.13 67.49L248.1 67.49L249.34 68.73L253.07 68.73L254.31 69.97L258.04 69.97L259.29 71.22L264.26 71.22L265.5 72.46L269.23 72.46L270.47 73.7L275.45 73.7L276.69 74.95L280.42 74.95L281.66 76.19L285.39 76.19L286.63 77.43L291.61 77.43L292.85 78.68L296.58 78.68L297.82 79.92L302.79 79.92L304.04 81.16L307.76 81.16L309.01 82.41L313.98 82.41L315.22 83.65L318.95 83.65L320.19 84.89L323.92 84.89L325.17 86.13L330.14 86.13L331.38 87.38L335.11 87.38L336.35 88.62L341.32 88.62L342.57 89.86L346.3 89.86L347.54 91.11L352.51 91.11L353.75 92.35L357.48 92.35L358.73 93.59L363.7 93.59L364.94 94.84L368.67 94.84L369.91 96.08L374.89 96.08L376.13 97.32L379.86 97.32L381.1 98.56L386.07 98.56L387.32 99.81L391.05 99.81L392.29 101.05L397.26 101.05L398.5 102.29L402.23 102.29L403.48 103.54L408.45 103.54L409.69 104.78L413.42 104.78L414.66 106.02L419.63 106.02L420.88 107.27L425.85 107.27L427.09 108.51L430.82 108.51L432.06 109.75L437.04 109.75L438.28 110.99L442.01 110.99L443.25 112.24L448.22 112.24L449.47 113.48L453.2 113.48L454.44 114.72L459.41 114.72L460.65 115.97L465.63 115.97L466.87 117.21L470.6 117.21L471.84 118.45L476.81 118.45L478.06 119.69L481.78 119.69L483.03 120.94L488 120.94L489.24 122.18L494.21 122.18L495.46 123.42L499.19 123.42L500.43 124.67L505.4 124.67L506.64 125.91L511.62 125.91L512.86 127.15L516.59 127.15L517.83 128.4L522.8 128.4L524.05 129.64L529.02 129.64L530.26 130.88L533.99 130.88L535.23 132.12L540.21 132.12L541.45 133.37L546.42 133.37L547.66 134.61L551.39 134.61L552.63 135.85L557.61 135.85L558.85 137.1L563.82 137.1L565.07 138.34L570.04 138.34L571.28 139.58L575.01 139.58L576.25 140.83L581.22 140.83L582.47 142.07L587.44 142.07L588.68 143.31L593.65 143.31L594.9 144.56L598.63 144.56L599.87 145.8L604.84 145.8L606.08 147.04L611.06 147.04L612.3 148.28L617.27 148.28L618.51 149.53L623.49 149.53L624.73 150.77L628.46 150.77L629.7 152.01L634.67 152.01L635.92 153.26L640.89 153.26L642.13 154.5L647.1 154.5L648.35 155.74L653.32 155.74L654.56 156.99L658.29 156.99L659.53 158.23L664.5 158.23L665.75 159.47L670.72 159.47L671.96 160.71L676.93 160.71L678.18 161.96L683.15 161.96L684.39 163.2L689.37 163.2L690.61 164.44L695.58 164.44L696.82 165.69L700.55 165.69L701.79 166.93L706.77 166.93L708.01 168.17L712.98 168.17L714.23 169.42L719.2 169.42L720.44 170.66L725.41 170.66L726.65 171.9L731.63 171.9L732.87 173.14L737.84 173.14L739.09 174.39L744.06 174.39L745.3 175.63L750.27 175.63L751.51 176.87L756.49 176.87L757.73 178.12L762.7 178.12L763.95 179.36L768.92 179.36L770.16 180.6L775.13 180.6L776.38 181.85L781.35 181.85L782.59 183.09L787.56 183.09L788.81 184.33L793.78 184.33L795.02 185.57L799.99 185.57L801.24 186.82L806.21 186.82L807.45 188.06L812.42 188.06L813.66 189.3L818.64 189.3L819.88 190.55L824.85 190.55L826.1 191.79L831.07 191.79L832.31 193.03L837.28 193.03L838.52 194.28L843.5 194.28L844.74 195.52L849.71 195.52L850.96 196.76L855.93 196.76L857.17 198L862.14 198L863.38 199.25L868.36 199.25L869.6 200.49L874.57 200.49L875.82 201.73L880.79 201.73L882.03 202.98L888.25 202.98L889.49 204.22L894.46 204.22L895.7 205.46L900.68 205.46L901.92 206.71L906.89 206.71L908.13 207.95L913.11 207.95L914.35 209.19L919.32 209.19L920.56 210.43L925.53 210.43L926.78 211.68L931.75 211.68L932.99 212.92L939.21 212.92L940.45 214.16L945.42 214.16L946.67 215.41L951.64 215.41L952.88 216.65L957.85 216.65L959.1 217.89L964.07 217.89L965.31 219.14L971.53 219.14" stroke="#bebebe" stroke-width="3.7" stroke-dasharray="27.97 11.99 24.83 10.64 24.69 10.58 24.63 10.55 24.57 10.53 24.17 10.36 24.49 10.5 24.46 10.48 24.4 10.46 24.12 10.34 24.44 10.47 24.09 10.32 24.47 10.49 24.14 10.34 24.43 10.47 24.33 10.43 24.28 10.41 24.71 10.59 24.42 10.47 24.51 10.5 24.6 10.54 25.02 10.72 24.88 10.66 24.95 10.69 25.08 10.75 25.43 10.9 23.57 10.1 23.42 10.04" stroke-linecap="round" stroke-linejoin="round" fill="none"/>
</g>
</g>
<g filter="url(#soft2)">
<g transform="translate(0 0)">
<rect x="799.6" y="17.6" width="172.4" height="107.1" fill="#fff" stroke="#000" stroke-width="1.1"/>
<path d="M814 38.2L825 49.2M814 49.2L825 38.2" stroke="#0000ff" stroke-width="0.95" fill="none"/>
<circle cx="818.8" cy="70.5" r="4.2" stroke="#000" stroke-width="1.25" fill="none"/>
<path d="M811.3 97.2H827.3M819.3 89.9V104.5M813.7 91.6L824.9 102.8M813.7 102.8L824.9 91.6" stroke="#bebebe" stroke-width="1.2" fill="none"/>
<text x="838.7" y="52.6" font-size="22.4" fill="#000" stroke="#000" stroke-width="0.55" textLength="37.2" lengthAdjust="spacingAndGlyphs">300</text>
<text x="838.7" y="80.3" font-size="22.4" fill="#000" stroke="#000" stroke-width="0.55" textLength="37.2" lengthAdjust="spacingAndGlyphs">325</text>
<text x="838.7" y="106.8" font-size="22.4" fill="#000" stroke="#000" stroke-width="0.55" textLength="123.0" lengthAdjust="spacingAndGlyphs">Normal(230)</text>
<rect x="91.5" y="17.6" width="880.5" height="579.1" fill="none" stroke="#1c1c1c" stroke-width="1.3"/>
<path d="M123.8 596.7V606M285.72 596.7V606M447.64 596.7V606M609.56 596.7V606M771.48 596.7V606M933.4 596.7V606M91.5 38.9H81.2M91.5 128.39H81.2M91.5 217.87H81.2M91.5 307.36H81.2M91.5 396.84H81.2M91.5 486.32H81.2M91.5 575.81H81.2" stroke="#1c1c1c" stroke-width="1.3" fill="none"/>
<g font-size="14.6" fill="#1e1e1e" stroke="#1e1e1e" stroke-width="0.3" text-anchor="middle">
<text x="122.6" y="629.1" textLength="8.7" lengthAdjust="spacingAndGlyphs">0</text>
<text x="284.52" y="629.1" textLength="26.1" lengthAdjust="spacingAndGlyphs">200</text>
<text x="446.44" y="629.1" textLength="26.1" lengthAdjust="spacingAndGlyphs">400</text>
<text x="608.36" y="629.1" textLength="26.1" lengthAdjust="spacingAndGlyphs">600</text>
<text x="770.28" y="629.1" textLength="26.1" lengthAdjust="spacingAndGlyphs">800</text>
<text x="932.2" y="629.1" textLength="34.8" lengthAdjust="spacingAndGlyphs">1000</text>
<text transform="translate(70.1 38.3) rotate(-90)" font-size="16.3" textLength="29" lengthAdjust="spacingAndGlyphs">1.00</text>
<text transform="translate(70.1 127.79) rotate(-90)" font-size="16.3" textLength="29" lengthAdjust="spacingAndGlyphs">0.95</text>
<text transform="translate(70.1 217.27) rotate(-90)" font-size="16.3" textLength="29" lengthAdjust="spacingAndGlyphs">0.90</text>
<text transform="translate(70.1 306.75) rotate(-90)" font-size="16.3" textLength="29" lengthAdjust="spacingAndGlyphs">0.85</text>
<text transform="translate(70.1 396.24) rotate(-90)" font-size="16.3" textLength="29" lengthAdjust="spacingAndGlyphs">0.80</text>
<text transform="translate(70.1 485.72) rotate(-90)" font-size="16.3" textLength="29" lengthAdjust="spacingAndGlyphs">0.75</text>
<text transform="translate(70.1 575.21) rotate(-90)" font-size="16.3" textLength="29" lengthAdjust="spacingAndGlyphs">0.70</text>
<text x="531" y="665.4" textLength="81.9" lengthAdjust="spacingAndGlyphs">Time (Hour)</text>
<text transform="translate(33.8 306.3) rotate(-90)" font-size="15.1" textLength="156.5" lengthAdjust="spacingAndGlyphs">Spring Operation Force</text>
</g>
</g>
<g transform="translate(1209.5 0)">
<rect x="799.6" y="17.6" width="172.4" height="107.1" fill="#fff" stroke="#000" stroke-width="1.1"/>
<path d="M814 38.2L825 49.2M814 49.2L825 38.2" stroke="#0000ff" stroke-width="0.95" fill="none"/>
<circle cx="818.8" cy="70.5" r="4.2" stroke="#000" stroke-width="1.25" fill="none"/>
<path d="M811.3 97.2H827.3M819.3 89.9V104.5M813.7 91.6L824.9 102.8M813.7 102.8L824.9 91.6" stroke="#bebebe" stroke-width="1.2" fill="none"/>
<text x="838.7" y="52.6" font-size="22.4" fill="#000" stroke="#000" stroke-width="0.55" textLength="37.2" lengthAdjust="spacingAndGlyphs">300</text>
<text x="838.7" y="80.3" font-size="22.4" fill="#000" stroke="#000" stroke-width="0.55" textLength="37.2" lengthAdjust="spacingAndGlyphs">325</text>
<text x="838.7" y="106.8" font-size="22.4" fill="#000" stroke="#000" stroke-width="0.55" textLength="123.0" lengthAdjust="spacingAndGlyphs">Normal(230)</text>
<rect x="91.5" y="17.6" width="880.5" height="579.1" fill="none" stroke="#1c1c1c" stroke-width="1.3"/>
<path d="M123.8 596.7V606M285.72 596.7V606M447.64 596.7V606M609.56 596.7V606M771.48 596.7V606M933.4 596.7V606M91.5 38.9H81.2M91.5 128.39H81.2M91.5 217.87H81.2M91.5 307.36H81.2M91.5 396.84H81.2M91.5 486.32H81.2M91.5 575.81H81.2" stroke="#1c1c1c" stroke-width="1.3" fill="none"/>
<g font-size="14.6" fill="#1e1e1e" stroke="#1e1e1e" stroke-width="0.3" text-anchor="middle">
<text x="122.6" y="629.1" textLength="8.7" lengthAdjust="spacingAndGlyphs">0</text>
<text x="284.52" y="629.1" textLength="26.1" lengthAdjust="spacingAndGlyphs">200</text>
<text x="446.44" y="629.1" textLength="26.1" lengthAdjust="spacingAndGlyphs">400</text>
<text x="608.36" y="629.1" textLength="26.1" lengthAdjust="spacingAndGlyphs">600</text>
<text x="770.28" y="629.1" textLength="26.1" lengthAdjust="spacingAndGlyphs">800</text>
<text x="932.2" y="629.1" textLength="34.8" lengthAdjust="spacingAndGlyphs">1000</text>
<text transform="translate(70.1 38.3) rotate(-90)" font-size="16.3" textLength="29" lengthAdjust="spacingAndGlyphs">1.00</text>
<text transform="translate(70.1 127.79) rotate(-90)" font-size="16.3" textLength="29" lengthAdjust="spacingAndGlyphs">0.95</text>
<text transform="translate(70.1 217.27) rotate(-90)" font-size="16.3" textLength="29" lengthAdjust="spacingAndGlyphs">0.90</text>
<text transform="translate(70.1 306.75) rotate(-90)" font-size="16.3" textLength="29" lengthAdjust="spacingAndGlyphs">0.85</text>
<text transform="translate(70.1 396.24) rotate(-90)" font-size="16.3" textLength="29" lengthAdjust="spacingAndGlyphs">0.80</text>
<text transform="translate(70.1 485.72) rotate(-90)" font-size="16.3" textLength="29" lengthAdjust="spacingAndGlyphs">0.75</text>
<text transform="translate(70.1 575.21) rotate(-90)" font-size="16.3" textLength="29" lengthAdjust="spacingAndGlyphs">0.70</text>
<text x="531" y="665.4" textLength="81.9" lengthAdjust="spacingAndGlyphs">Time (Hour)</text>
<text transform="translate(33.8 306.3) rotate(-90)" font-size="15.1" textLength="156.5" lengthAdjust="spacingAndGlyphs">Spring Operation Force</text>
</g>
</g>
</g>
<g font-family="'Liberation Serif','DejaVu Serif',serif" font-size="54.5" fill="#000" lengthAdjust="spacingAndGlyphs">
<text y="747.1"><tspan x="322.5" textLength="14.5" lengthAdjust="spacingAndGlyphs">(</tspan><tspan x="340.3" font-weight="bold" textLength="20.5" lengthAdjust="spacingAndGlyphs">c</tspan><tspan x="362.5" textLength="14.5" lengthAdjust="spacingAndGlyphs">)</tspan> <tspan x="392.8" textLength="149" lengthAdjust="spacingAndGlyphs">Power</tspan> <tspan x="555.5" textLength="149.5" lengthAdjust="spacingAndGlyphs">Model</tspan></text>
<text y="747.3"><tspan x="1480.5" textLength="14.5" lengthAdjust="spacingAndGlyphs">(</tspan><tspan x="1499" font-weight="bold" textLength="29" lengthAdjust="spacingAndGlyphs">d</tspan><tspan x="1530" textLength="14.5" lengthAdjust="spacingAndGlyphs">)</tspan> <tspan x="1562.5" textLength="178" lengthAdjust="spacingAndGlyphs">Logistic</tspan> <tspan x="1755.2" textLength="149.5" lengthAdjust="spacingAndGlyphs">Model</tspan></text>
</g>
</svg>
</body></html>
